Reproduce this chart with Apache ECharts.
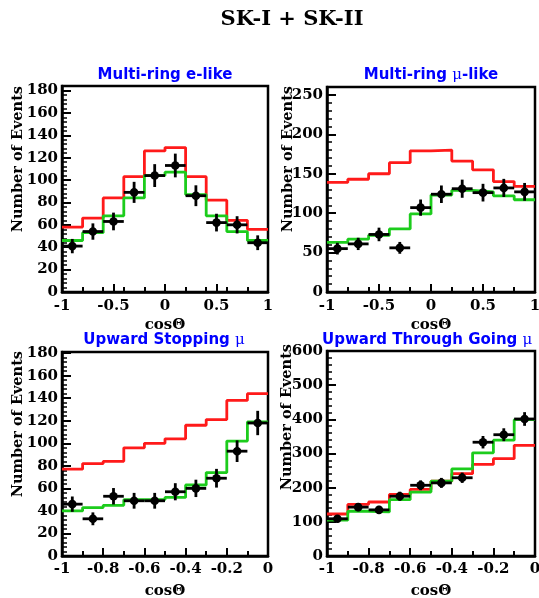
<!DOCTYPE html>
<html>
<head>
<meta charset="utf-8">
<script src="https://cdn.jsdelivr.net/npm/echarts@6/dist/echarts.min.js"></script>
<style>
  html, body { margin: 0; padding: 0; background: #fff; }
  #chart { width: 539px; height: 598px; }
</style>
</head>
<body>
<div id="chart"></div>
<script>
// Binning of the zenith-angle histograms
const fullBinLow = -1, fullBinWidth = 0.2;   // multi-ring samples, cosΘ in [-1, 1]
const upBinLow = -1, upBinWidth = 0.1;       // upward-going muons, cosΘ in [-1, 0]

// Multi-ring e-like
const eLikeNoOsc = [58, 66, 84, 103, 126, 129, 103, 82, 64, 56];
const eLikeOsc   = [46, 53, 68, 84, 104, 107, 87, 68, 54, 46];
const eLikeData  = [41, 54, 63, 89, 104, 113, 86, 62, 60, 44];
const eLikeErr   = [6.4, 7.3, 7.9, 9.4, 10.2, 10.6, 9.3, 7.9, 7.7, 6.6];

// Multi-ring mu-like
const muLikeNoOsc = [139, 143, 150, 164, 179, 180, 166, 155, 140, 134];
const muLikeOsc   = [63, 67, 72, 80, 99, 123, 129, 127, 122, 117];
const muLikeData  = [55, 61, 73, 56, 107, 124, 131, 126, 132, 127];
const muLikeErr   = [7.4, 7.8, 8.6, 7.5, 10.3, 11.1, 11.5, 11.2, 11.5, 11.3];

// Upward stopping mu
const stopNoOsc = [77, 82, 84, 96, 100, 104, 116, 121, 138, 144];
const stopOsc   = [40, 43, 45, 50, 50, 52, 63, 74, 102, 119];
const stopData  = [46, 33, 53, 49, 49, 57, 60, 69, 93, 118];
const stopErr   = [6.8, 5.7, 7.3, 7.0, 7.0, 7.6, 7.7, 8.3, 9.6, 10.8];

// Upward through-going mu
const thruNoOsc = [123, 151, 158, 180, 195, 219, 241, 268, 285, 324];
const thruOsc   = [105, 131, 129, 165, 187, 219, 255, 302, 339, 399];
const thruData  = [109, 143, 135, 175, 207, 214, 229, 333, 355, 401];
const thruErr   = [10.4, 12.0, 11.6, 13.2, 14.4, 14.6, 15.1, 18.2, 18.8, 20.0];

// Tick labels
const xTicksFull = [-1, -0.5, 0, 0.5, 1];
const xMinorFull = [-1, -0.8, -0.6, -0.4, -0.2, 0, 0.2, 0.4, 0.6, 0.8, 1];
const xTicksUp   = [-1, -0.8, -0.6, -0.4, -0.2, 0];
const yTicksE    = [0, 20, 40, 60, 80, 100, 120, 140, 160, 180];
const yTicksMu   = [0, 50, 100, 150, 200, 250];
const yTicksStop = [0, 20, 40, 60, 80, 100, 120, 140, 160, 180];
const yTicksThru = [0, 100, 200, 300, 400, 500, 600];

// Vertical ranges of the four frames
const yMaxE = 184, yMaxMu = 260, yMaxStop = 181, yMaxThru = 600;

const RED = '#ff1a1a', GREEN = '#1ccc1c', BLACK = '#000';
const serif = '"DejaVu Serif", "Liberation Serif", serif';
const sans = '"DejaVu Sans", "Liberation Sans", sans-serif';

function labelFrom(ticks) {
  return function (v) {
    for (const t of ticks) if (Math.abs(t - v) < 1e-6) return String(t);
    return '';
  };
}

// histogram outline: one point per lower bin edge plus the final upper edge
function stepPoints(low, width, values) {
  const pts = values.map((v, i) => [low + i * width, v]);
  pts.push([low + values.length * width, values[values.length - 1]]);
  return pts;
}

function pointRows(low, width, values, errs) {
  return values.map((v, i) => [low + (i + 0.5) * width, v, width / 2, errs[i]]);
}

const grids = [
  { left: 62, top: 86, width: 206, height: 206 },
  { left: 327, top: 87, width: 208, height: 205 },
  { left: 62, top: 352, width: 206, height: 204 },
  { left: 327, top: 351, width: 208, height: 205 }
].map(g => Object.assign({ show: true, borderColor: BLACK, borderWidth: 2.5, containLabel: false, outerBoundsMode: 'none' }, g));

function mainX(gridIndex, ticks, margin, minor) {
  return {
    type: 'value', gridIndex, position: 'bottom',
    min: ticks[0], max: ticks[ticks.length - 1], interval: ticks[1] - ticks[0],
    axisLine: { show: true, onZero: false, lineStyle: { color: BLACK, width: 2.5 } },
    axisTick: { show: true, inside: true, length: 8, lineStyle: { color: BLACK, width: 2 } },
    minorTick: minor ? { show: true, splitNumber: minor, length: 5, lineStyle: { color: BLACK, width: 2 } } : { show: false },
    splitLine: { show: false }, minorSplitLine: { show: false },
    axisLabel: { margin, color: BLACK, fontFamily: serif, fontWeight: 'bold', fontSize: 15, formatter: labelFrom(ticks) }
  };
}

function minorX(gridIndex, ticks) {
  return {
    type: 'value', gridIndex, position: 'bottom',
    min: ticks[0], max: ticks[ticks.length - 1], interval: ticks[1] - ticks[0],
    axisLine: { show: false, onZero: false },
    axisTick: { show: true, inside: true, length: 5, lineStyle: { color: BLACK, width: 2 } },
    splitLine: { show: false },
    axisLabel: { show: false }
  };
}

function mainY(gridIndex, ticks, max) {
  return {
    type: 'value', gridIndex, position: 'left',
    min: 0, max, interval: ticks[1] - ticks[0],
    axisLine: { show: true, onZero: false, lineStyle: { color: BLACK, width: 2.5 } },
    axisTick: { show: true, inside: true, length: 9, lineStyle: { color: BLACK, width: 2 } },
    minorTick: { show: true, splitNumber: 5, length: 5, lineStyle: { color: BLACK, width: 1.5 } },
    splitLine: { show: false }, minorSplitLine: { show: false },
    axisLabel: { margin: 4, color: BLACK, fontFamily: serif, fontWeight: 'bold', fontSize: 15, formatter: labelFrom(ticks) }
  };
}

function histSeries(xi, yi, low, width, values, color) {
  return {
    type: 'line', xAxisIndex: xi, yAxisIndex: yi, step: 'end', symbol: 'none',
    data: stepPoints(low, width, values),
    lineStyle: { color, width: 2.8 }, silent: true, z: 3
  };
}

function dataSeries(xi, yi, low, width, values, errs) {
  return {
    type: 'custom', xAxisIndex: xi, yAxisIndex: yi, z: 5,
    data: pointRows(low, width, values, errs),
    encode: { x: 0, y: 1 },
    renderItem: function (params, api) {
      const x = api.value(0), y = api.value(1), ex = api.value(2), ey = api.value(3);
      const c = api.coord([x, y]);
      const l = api.coord([x - ex, y]), r = api.coord([x + ex, y]);
      const t = api.coord([x, y + ey]), b = api.coord([x, y - ey]);
      const st = { stroke: BLACK, lineWidth: 2.8 };
      return {
        type: 'group',
        children: [
          { type: 'line', shape: { x1: l[0], y1: l[1], x2: r[0], y2: r[1] }, style: st },
          { type: 'line', shape: { x1: t[0], y1: t[1], x2: b[0], y2: b[1] }, style: st },
          { type: 'circle', shape: { cx: c[0], cy: c[1], r: 4.3 }, style: { fill: BLACK } }
        ]
      };
    }
  };
}

const titleRich = {
  a: { fontFamily: sans, fontWeight: 'bold', fontSize: 15, fill: '#0000ff' },
  m: { fontFamily: serif, fontWeight: 'normal', fontSize: 15, fill: '#0000ff' }
};

function panelTitle(x, y, text, align) {
  return { type: 'text', x, y, style: { text, rich: titleRich, align: align || 'center', verticalAlign: 'middle' } };
}

function yTitle(x, yTop) {
  return {
    type: 'text', x, y: yTop, rotation: Math.PI / 2,
    style: { text: 'Number of Events', fontFamily: serif, fontWeight: 'bold', fontSize: 14.5, fill: BLACK, align: 'right', verticalAlign: 'middle' }
  };
}

function xTitle(x, y) {
  return {
    type: 'text', x, y,
    style: { text: 'cosΘ', fontFamily: serif, fontWeight: 'bold', fontSize: 15, fill: BLACK, align: 'center', verticalAlign: 'middle' }
  };
}

const option = {
  animation: false,
  backgroundColor: '#fff',
  grid: grids,
  xAxis: [
    mainX(0, xTicksFull, 7, 0),
    mainX(1, xTicksFull, 7, 0),
    mainX(2, xTicksUp, 6, 2),
    mainX(3, xTicksUp, 6, 2),
    minorX(0, xMinorFull),
    minorX(1, xMinorFull)
  ],
  yAxis: [
    mainY(0, yTicksE, yMaxE),
    mainY(1, yTicksMu, yMaxMu),
    mainY(2, yTicksStop, yMaxStop),
    mainY(3, yTicksThru, yMaxThru)
  ],
  series: [
    histSeries(0, 0, fullBinLow, fullBinWidth, eLikeNoOsc, RED),
    histSeries(0, 0, fullBinLow, fullBinWidth, eLikeOsc, GREEN),
    dataSeries(0, 0, fullBinLow, fullBinWidth, eLikeData, eLikeErr),

    histSeries(1, 1, fullBinLow, fullBinWidth, muLikeNoOsc, RED),
    histSeries(1, 1, fullBinLow, fullBinWidth, muLikeOsc, GREEN),
    dataSeries(1, 1, fullBinLow, fullBinWidth, muLikeData, muLikeErr),

    histSeries(2, 2, upBinLow, upBinWidth, stopNoOsc, RED),
    histSeries(2, 2, upBinLow, upBinWidth, stopOsc, GREEN),
    dataSeries(2, 2, upBinLow, upBinWidth, stopData, stopErr),

    histSeries(3, 3, upBinLow, upBinWidth, thruNoOsc, RED),
    histSeries(3, 3, upBinLow, upBinWidth, thruOsc, GREEN),
    dataSeries(3, 3, upBinLow, upBinWidth, thruData, thruErr)
  ],
  graphic: [
    { type: 'text', x: 292, y: 20, style: { text: 'SK-I + SK-II', fontFamily: serif, fontWeight: 'bold', fontSize: 21, fill: BLACK, align: 'center', verticalAlign: 'middle' } },
    panelTitle(165, 75, '{a|Multi-ring e-like}'),
    panelTitle(431, 75, '{a|Multi-ring }{m|μ}{a|-like}'),
    panelTitle(164, 340, '{a|Upward Stopping }{m|μ}'),
    panelTitle(322, 340, '{a|Upward Through Going }{m|μ}', 'left'),
    yTitle(18, 86),
    yTitle(288, 86),
    yTitle(18, 351),
    yTitle(287, 344),
    xTitle(165, 325),
    xTitle(431, 325),
    xTitle(165, 591),
    xTitle(431, 591)
  ]
};

const chart = echarts.init(document.getElementById('chart'), null, { renderer: 'canvas' });
chart.setOption(option);
</script>
</body>
</html>
